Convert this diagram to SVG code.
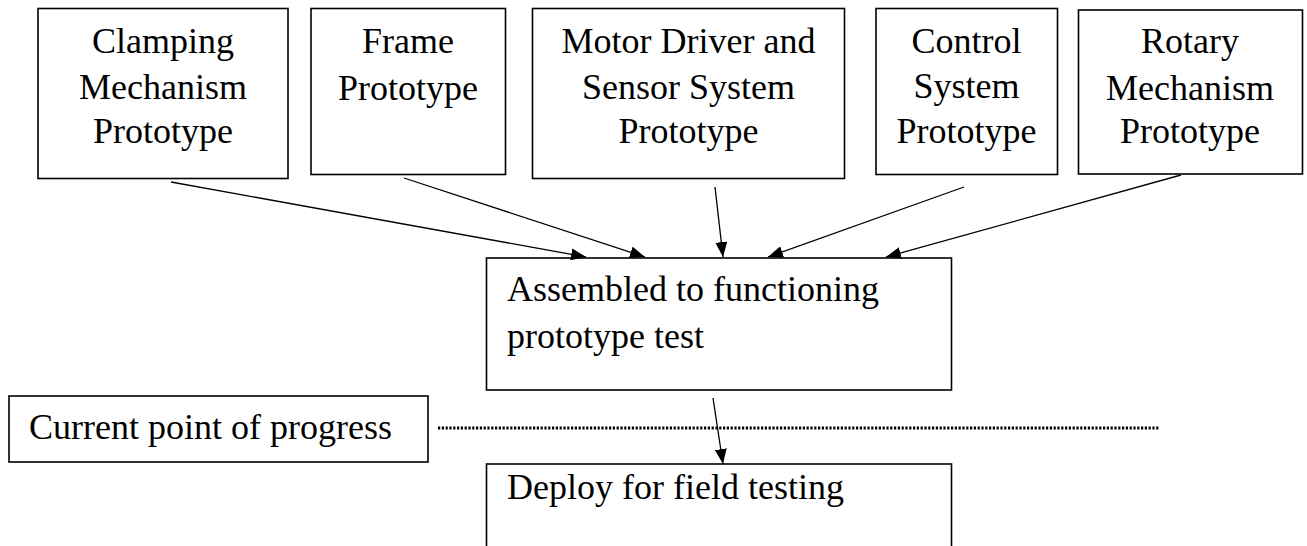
<svg xmlns="http://www.w3.org/2000/svg" width="1307" height="546" viewBox="0 0 1307 546">
<style>
.box{fill:#fff;stroke:#000;stroke-width:1.6}
.t{font-family:"Liberation Serif","Times New Roman",serif;font-size:36px;fill:#000}
.c{text-anchor:middle}
.conn{stroke:#000;stroke-width:1.3;fill:none}
.dot{stroke:#000;stroke-width:3;stroke-dasharray:2.2 1.6;fill:none}
</style>
<defs>
<marker id="ah" markerUnits="userSpaceOnUse" markerWidth="16" markerHeight="12" refX="15" refY="6" orient="auto">
<path d="M0,0 L15,6 L0,12 Z" fill="#000"/>
</marker>
</defs>
<rect width="1307" height="546" fill="#fff"/>
<g id="clamping">
<rect class="box" x="38" y="8.5" width="250" height="170"/>
<text class="t c" x="163" y="53">Clamping</text>
<text class="t c" x="163" y="99">Mechanism</text>
<text class="t c" x="163" y="143">Prototype</text>
</g>
<g id="frame">
<rect class="box" x="311" y="8.5" width="194.5" height="166"/>
<text class="t c" x="408" y="53">Frame</text>
<text class="t c" x="408" y="100">Prototype</text>
</g>
<g id="motor">
<rect class="box" x="532.5" y="8.5" width="312" height="170"/>
<text class="t c" x="688.5" y="53">Motor Driver and</text>
<text class="t c" x="688.5" y="99">Sensor System</text>
<text class="t c" x="688.5" y="143">Prototype</text>
</g>
<g id="control">
<rect class="box" x="876" y="8.5" width="181.5" height="166"/>
<text class="t c" x="966.5" y="53">Control</text>
<text class="t c" x="966.5" y="98">System</text>
<text class="t c" x="966.5" y="143">Prototype</text>
</g>
<g id="rotary">
<rect class="box" x="1078.5" y="10" width="224" height="164"/>
<text class="t c" x="1190" y="53">Rotary</text>
<text class="t c" x="1190" y="100">Mechanism</text>
<text class="t c" x="1190" y="143">Prototype</text>
</g>
<g id="assembled">
<rect class="box" x="486.5" y="258" width="465" height="132"/>
<text class="t" x="507" y="301">Assembled to functioning</text>
<text class="t" x="507" y="348">prototype test</text>
</g>
<g id="current">
<rect class="box" x="9" y="396" width="419" height="66"/>
<text class="t" x="29" y="439">Current point of progress</text>
</g>
<g id="deploy">
<rect class="box" x="486.5" y="464" width="465" height="90"/>
<text class="t" x="507" y="499">Deploy for field testing</text>
</g>
<g id="connectors">
<line class="conn" x1="171" y1="182" x2="586" y2="257" marker-end="url(#ah)"/>
<line class="conn" x1="404" y1="178" x2="645" y2="257" marker-end="url(#ah)"/>
<line class="conn" x1="715" y1="187" x2="723" y2="257" marker-end="url(#ah)"/>
<line class="conn" x1="964" y1="187" x2="768" y2="257" marker-end="url(#ah)"/>
<line class="conn" x1="1181" y1="175" x2="886" y2="257" marker-end="url(#ah)"/>
<line class="conn" x1="713" y1="398" x2="723" y2="464" marker-end="url(#ah)"/>
<line class="dot" x1="438" y1="428" x2="1160" y2="428"/>
</g>
</svg>
